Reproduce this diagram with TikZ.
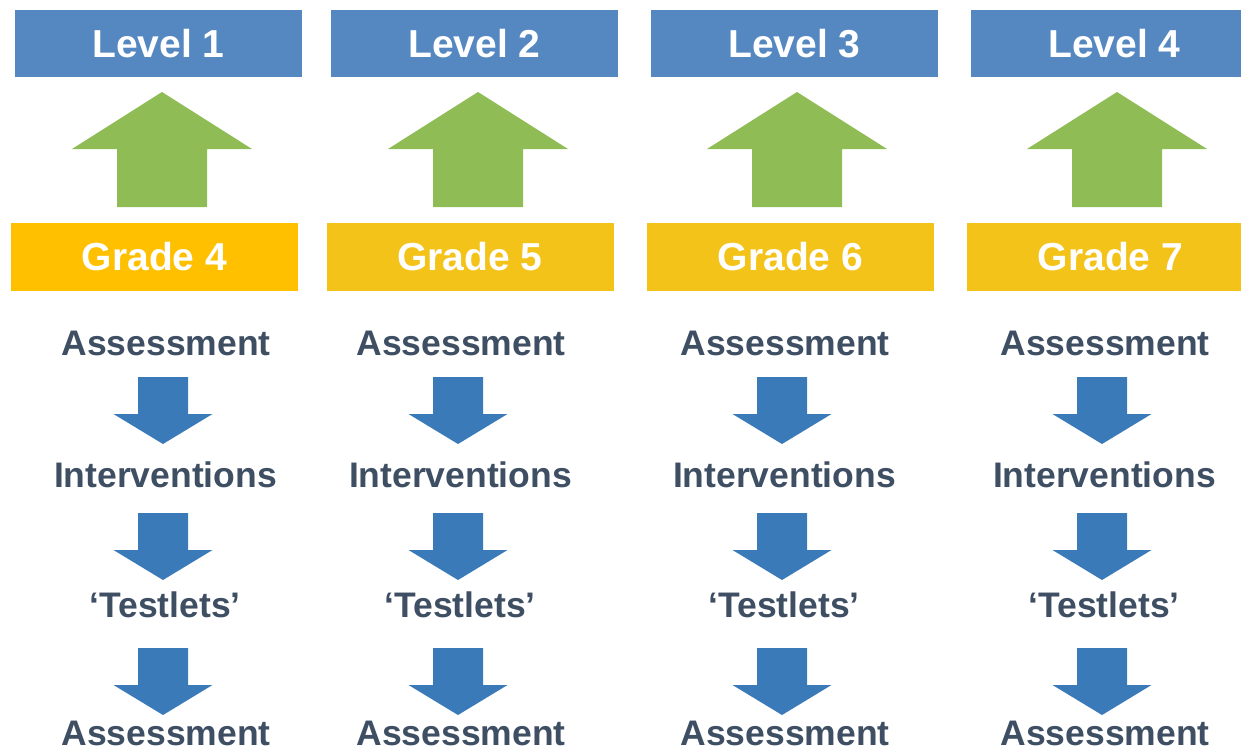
\documentclass[tikz,border=0pt]{standalone}
\usepackage{fontspec}
\setmainfont{Liberation Sans}
\definecolor{levelblue}{HTML}{5588C1}
\definecolor{gradeA}{HTML}{FFC000}
\definecolor{gradeB}{HTML}{F4C31A}
\definecolor{upgreen}{HTML}{8FBC55}
\definecolor{downblue}{HTML}{3A7AB8}
\definecolor{stepgray}{HTML}{3F4F63}
\tikzset{
  levelbox/.style={fill=levelblue, text=white, minimum width=287pt, minimum height=67pt, inner sep=0pt, font=\fontsize{39}{39}\selectfont\bfseries},
  gradebox/.style={fill=gradeB, text=white, minimum width=287pt, minimum height=68pt, inner sep=0pt, font=\fontsize{39}{39}\selectfont\bfseries},
  steptext/.style={anchor=base, inner sep=0pt, text=stepgray, font=\fontsize{35.5}{35.5}\selectfont\bfseries},
  greenarrow/.pic={\fill[upgreen] (0,0) -- (90,57) -- (45,57) -- (45,115) -- (-45,115) -- (-45,57) -- (-90,57) -- cycle;},
  bluearrow/.pic={\fill[downblue] (-25,0) -- (25,0) -- (25,37) -- (49.5,37) -- (0,67) -- (-49.5,37) -- (-25,37) -- cycle;}
}
\begin{document}
\begin{tikzpicture}[x=1pt,y=-1pt]
\useasboundingbox (0,0) rectangle (1241,747);
\clip (0,0) rectangle (1241,747);
% column 1
\node[levelbox] (L1) at (158.5,43.5) {Level 1};
\node[gradebox, fill=gradeA] (G1) at (154.5,257) {Grade 4};
\pic at (162,92) {greenarrow};
\node[steptext] (a1) at (166,355) {Assessment};
\pic at (163,377) {bluearrow};
\node[steptext] (i1) at (165.5,487) {Interventions};
\pic at (163,513) {bluearrow};
\node[steptext] (t1) at (165,617) {‘Testlets’};
\pic at (163,648) {bluearrow};
\node[steptext] (b1) at (166,745) {Assessment};
% column 2
\node[levelbox] (L2) at (474.5,43.5) {Level 2};
\node[gradebox] (G2) at (470,257) {Grade 5};
\pic at (478,92) {greenarrow};
\node[steptext] (a2) at (461,355) {Assessment};
\pic at (458,377) {bluearrow};
\node[steptext] (i2) at (460.5,487) {Interventions};
\pic at (458,513) {bluearrow};
\node[steptext] (t2) at (460,617) {‘Testlets’};
\pic at (458,648) {bluearrow};
\node[steptext] (b2) at (461,745) {Assessment};
% column 3
\node[levelbox] (L3) at (794.5,43.5) {Level 3};
\node[gradebox] (G3) at (790.5,257) {Grade 6};
\pic at (797,92) {greenarrow};
\node[steptext] (a3) at (785,355) {Assessment};
\pic at (782,377) {bluearrow};
\node[steptext] (i3) at (784.5,487) {Interventions};
\pic at (782,513) {bluearrow};
\node[steptext] (t3) at (784,617) {‘Testlets’};
\pic at (782,648) {bluearrow};
\node[steptext] (b3) at (785,745) {Assessment};
% column 4
\node[levelbox] (L4) at (1114.5,43.5) {Level 4};
\node[gradebox] (G4) at (1110.5,257) {Grade 7};
\pic at (1117,92) {greenarrow};
\node[steptext] (a4) at (1105,355) {Assessment};
\pic at (1102,377) {bluearrow};
\node[steptext] (i4) at (1104.5,487) {Interventions};
\pic at (1102,513) {bluearrow};
\node[steptext] (t4) at (1104,617) {‘Testlets’};
\pic at (1102,648) {bluearrow};
\node[steptext] (b4) at (1105,745) {Assessment};
\end{tikzpicture}
\end{document}
